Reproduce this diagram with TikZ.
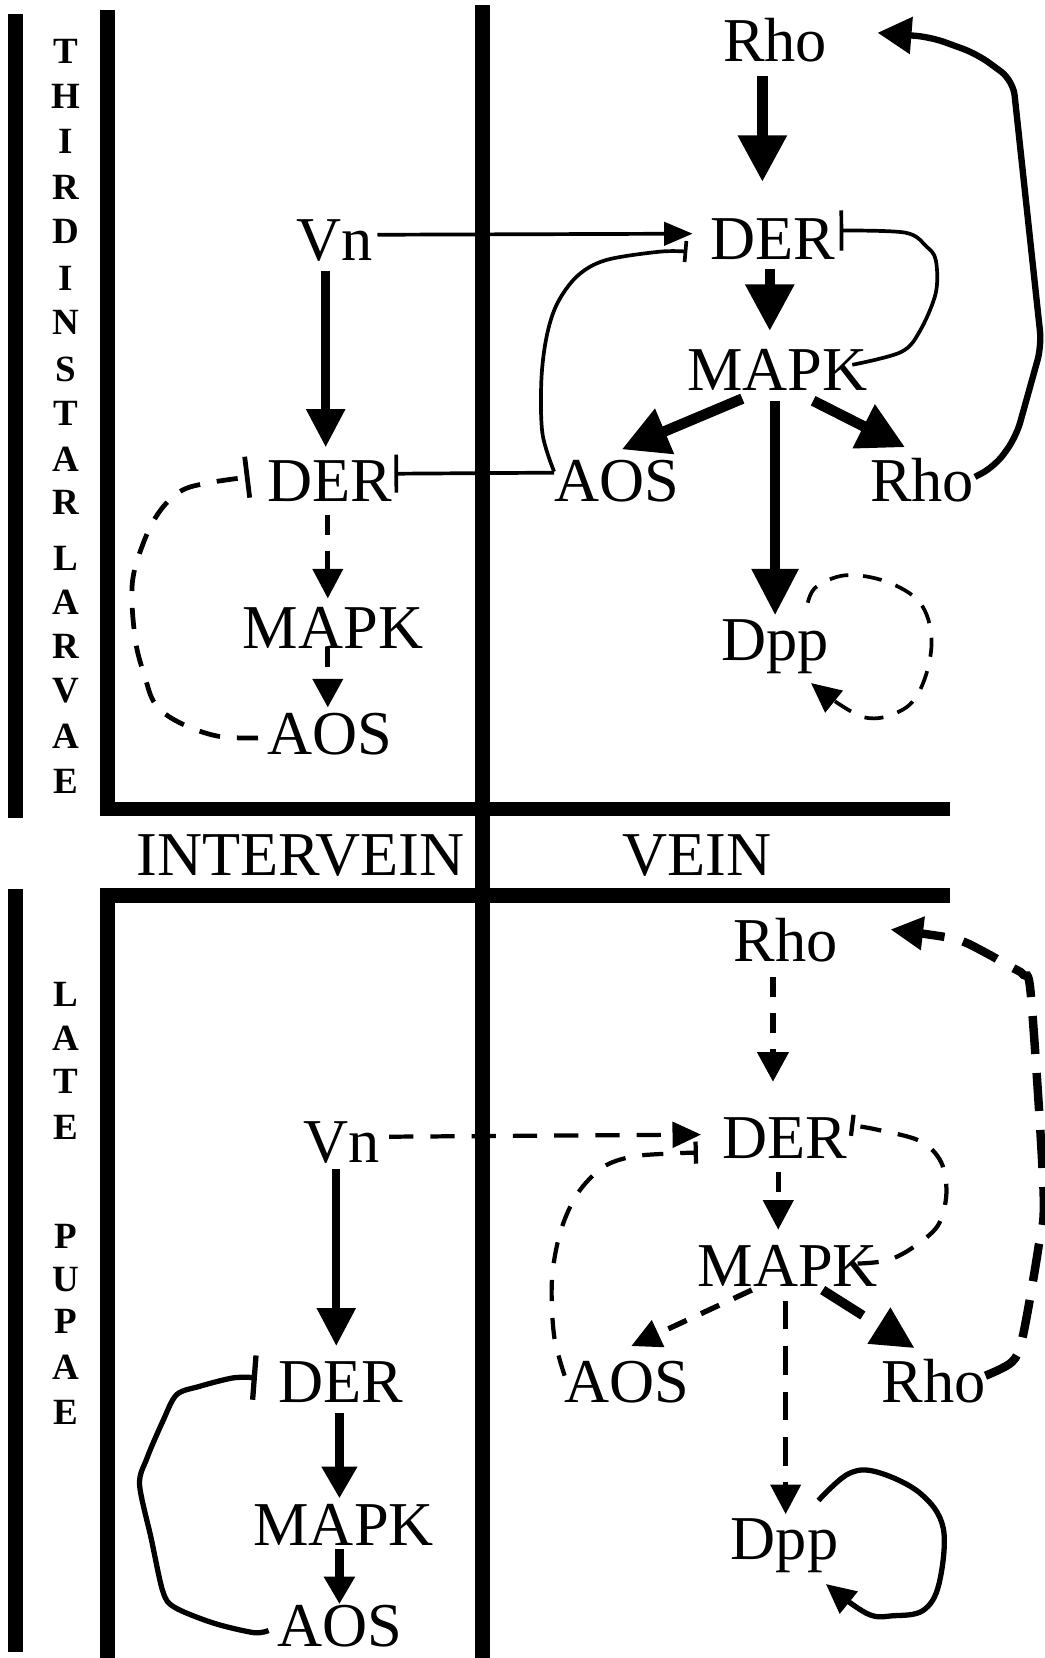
\documentclass[tikz,border=0pt]{standalone}
\usepackage{fontspec}
\setmainfont{Liberation Serif}
\usetikzlibrary{arrows.meta,calc}
\begin{document}
\begin{tikzpicture}[x=1pt,y=-1pt,
  lbl/.style={inner sep=0pt, anchor=base, font=\fontsize{59}{60}\selectfont},
  side/.style={inner sep=0pt, anchor=center, font=\fontsize{35}{36}\selectfont\bfseries},
  bigarr/.style={line width=10pt, -{Triangle[length=44pt,width=44pt]}},
  medarr/.style={line width=8pt, -{Triangle[length=36pt,width=35pt]}},
  thinline/.style={line width=3.5pt},
  dsh/.style={line width=5pt, dash pattern=on 19pt off 15pt},
  inhib/.style={-{Bar[width=#1]}},
]
\useasboundingbox (0,0) rectangle (988,1568);
\fill[white] (0,0) rectangle (988,1568);
% frame
\fill (8,13) rectangle (22,774);
\fill (8,841) rectangle (22,1562);
\fill (95,9) rectangle (109,772);
\fill (95,758) rectangle (898,772);
\fill (449,5) rectangle (463,1568);
\fill (95,840) rectangle (898,854);
\fill (95,840) rectangle (109,1568);
% side labels
\foreach \l/\y [count=\i] in {T/49,H/91,I/134,R/177,D/219,I/263,N/305,S/349,T/391,A/434,R/475,L/528,A/570,R/611,V/653,A/696,E/739}
  \node[side] (top\i) at (62,\y) {\l};
\foreach \l/\y [count=\i] in {L/940,A/982,T/1023,E/1066,P/1169,U/1210,P/1250,A/1293,E/1336}
  \node[side] (bot\i) at (62,\y) {\l};
\node[lbl] (intervein) at (284,828) {INTERVEIN};
\node[lbl] (vein) at (659,828) {VEIN};
% top nodes
\node[lbl] (rhoT) at (733,58) {Rho};
\node[lbl] (derT) at (731,245) {DER};
\node[lbl] (mapkT) at (735,369) {MAPK};
\node[lbl] (aosT) at (583,474) {AOS};
\node[lbl] (rhoR) at (872,474) {Rho};
\node[lbl] (dppT) at (733,625) {Dpp};
\node[lbl] (vnT) at (316,246) {Vn};
\node[lbl] (derL) at (312,474) {DER};
\node[lbl] (mapkL) at (315,613) {MAPK};
\node[lbl] (aosL) at (312,714) {AOS};
% bottom nodes
\node[lbl] (rhoB) at (743,909) {Rho};
\node[lbl] (derB) at (742,1096) {DER};
\node[lbl] (mapkB) at (745,1217) {MAPK};
\node[lbl] (aosB) at (593,1326) {AOS};
\node[lbl] (rhoRB) at (883,1326) {Rho};
\node[lbl] (dppB) at (742,1475) {Dpp};
\node[lbl] (vnB) at (323,1099) {Vn};
\node[lbl] (derLB) at (322,1326) {DER};
\node[lbl] (mapkLB) at (325,1462) {MAPK};
\node[lbl] (aosLB) at (321,1557) {AOS};

% ---------- top, vein ----------
\draw[bigarr] ($(rhoT.base)+(-12,14)$) -- ($(derT.base)+(-10,-73)$);
\draw[bigarr] ($(derT.base)+(-3,9)$) -- ($(mapkT.base)+(-7,-56)$);
\draw[bigarr] ($(mapkT.base)+(-33,8)$) -- ($(aosT.base)+(5,-49)$);
\draw[bigarr] ($(mapkT.base)+(34,10)$) -- ($(rhoR.base)+(-16,-51)$);
\draw[line width=10pt, -{Triangle[length=44pt,width=42pt]}] ($(mapkT.base)+(-2,10)$) -- ($(dppT.base)+(0,-43)$);
\draw[line width=6pt, rounded corners=14pt, -{Triangle[length=32pt,width=34pt]}]
  ($(rhoR.base)+(50,-23)$) -- (941,441) -- (961,413) -- (985,327) -- (958,76) -- (924,51) -- (880,35) -- ($(rhoT.base)+(97,-27)$);
\draw[thinline, -{Triangle[length=27pt,width=22pt]}] ($(vnT.base)+(41,-24)$) -- ($(derT.base)+(-76,-24)$);
\draw[thinline, inhib=20pt] plot[smooth, tension=0.55] coordinates {($(aosT.base)+(-59,-28)$) (513,410) (512,359) (517,318) (527,287) (546,261) (573,246) (624,238) ($(derT.base)+(-81,-7)$)};
\draw[thinline, inhib=36pt] ($(aosT.base)+(-59,-27)$) -- ($(derL.base)+(61,-26)$);
\draw[thinline, inhib=38pt] plot[smooth, tension=0.55] coordinates {($(mapkT.base)+(71,-24)$) (852,333) (870,313) (885,277) (885,246) (876,233) (856,220) ($(derT.base)+(63,-27)$)};
\draw[line width=3.5pt, dash pattern=on 18pt off 14pt, -{Triangle[length=28pt,width=26pt]}]
  plot[smooth, tension=0.6] coordinates {($(dppT.base)+(31,-55)$) (772,555) (800,544) (838,550) (870,570) (881,605) (873,646) (854,671) (816,678) ($(dppT.base)+(34,21)$)};
% ---------- top, intervein ----------
\draw[medarr] ($(vnT.base)+(-8,10)$) -- ($(derL.base)+(-4,-51)$);
\draw[dsh, -{Triangle[length=28pt,width=28pt]}] ($(derL.base)+(-2,13)$) -- ($(mapkL.base)+(-5,-47)$);
\draw[dsh, -{Triangle[length=27pt,width=28pt]}] ($(mapkL.base)+(-5,-1)$) -- ($(aosL.base)+(-2,-45)$);
\draw[line width=4.5pt, dash pattern=on 20pt off 16pt, inhib=39pt]
  plot[smooth, tension=0.6] coordinates {($(aosL.base)+(-68,-16)$) (205,696) (169,683) (147,666) (137,640) (128,605) (125,553) (135,515) (150,485) (170,465) (195,457) ($(derL.base)+(-76,-23)$)};

% ---------- bottom, intervein ----------
\draw[medarr] ($(vnB.base)+(-5,7)$) -- ($(derLB.base)+(-4,-53)$);
\draw[line width=8pt, -{Triangle[length=30pt,width=32pt]}] ($(derLB.base)+(-1,10)$) -- ($(mapkLB.base)+(-4,-45)$);
\draw[line width=8pt, -{Triangle[length=26pt,width=28pt]}] ($(mapkLB.base)+(-4,3)$) -- ($(aosLB.base)+(0,-40)$);
\draw[line width=5pt, inhib=42pt] plot[smooth, tension=0.5] coordinates {($(aosLB.base)+(-67,-15)$) (240,1544) (202,1535) (165,1520) (154,1505) (143,1455) (132,1404) (139,1379) (154,1344) (167,1319) (189,1311) (221,1303) ($(derLB.base)+(-79,-23)$)};

% ---------- bottom, vein ----------
\draw[line width=4pt, dash pattern=on 23pt off 16pt, -{Triangle[length=27pt,width=24pt]}] ($(vnB.base)+(45,-24)$) -- ($(derB.base)+(-79,-23)$);
\draw[dsh, -{Triangle[length=28pt,width=29pt]}] ($(rhoB.base)+(-12,15)$) -- ($(derB.base)+(-11,-73)$);
\draw[dsh, -{Triangle[length=28pt,width=28pt]}] ($(derB.base)+(-6,12)$) -- ($(mapkB.base)+(-9,-54)$);
\draw[dsh, -{Triangle[length=28pt,width=27pt]}] ($(mapkB.base)+(-34,3)$) -- ($(aosB.base)+(4,-53)$);
\draw[line width=5pt, dash pattern=on 27pt off 16pt, -{Triangle[length=28pt,width=28pt]}] ($(mapkB.base)+(-2,13)$) -- ($(dppB.base)+(1,-43)$);
\draw[line width=9pt, dash pattern=on 45pt off 20pt, -{Triangle[length=40pt,width=38pt]}] ($(mapkB.base)+(33,3)$) -- ($(rhoRB.base)+(-18,-51)$);
\draw[line width=4pt, dash pattern=on 20pt off 16pt, inhib=21pt]
  plot[smooth, tension=0.55] coordinates {($(aosB.base)+(-59,-25)$) (524,1263) (522,1210) (530,1165) (546,1129) (570,1104) (597,1094) (631,1091) ($(derB.base)+(-82,-6)$)};
\draw[line width=4pt, dash pattern=on 20pt off 16pt, inhib=20pt]
  plot[smooth, tension=0.55] coordinates {($(mapkB.base)+(66,-22)$) (839,1192) (863,1180) (887,1159) (895,1129) (890,1099) (870,1079) (828,1068) ($(derB.base)+(62,-32)$)};
\draw[line width=8pt, dash pattern=on 36pt off 18pt, -{Triangle[length=31pt,width=30pt]}]
  plot[smooth, tension=0.5] coordinates {($(rhoRB.base)+(49,-25)$) (957,1288) (967,1265) (982,1180) (987,1129) (975,942) (968,922) (955,914) (934,902) (907,889) (873,883) ($(rhoB.base)+(99,-30)$)};
\draw[line width=5pt, -{Triangle[length=28pt,width=26pt]}]
  plot[smooth, tension=0.6] coordinates {($(dppB.base)+(32,-56)$) (802,1394) (829,1392) (870,1412) (892,1445) (888,1498) (873,1523) (845,1528) (820,1526) ($(dppB.base)+(39,23)$)};
\end{tikzpicture}
\end{document}
